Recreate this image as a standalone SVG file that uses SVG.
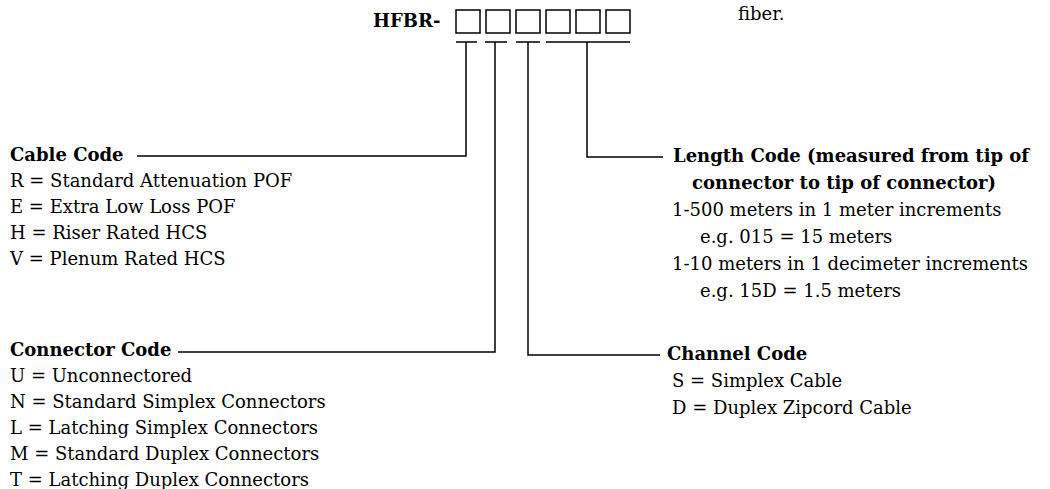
<svg xmlns="http://www.w3.org/2000/svg" width="1050" height="489" viewBox="0 0 1050 489">
<style>
text{font-family:"DejaVu Serif","Liberation Serif",serif;font-size:18px;fill:#000}
.b{font-weight:bold}
.ln{stroke:#000;stroke-width:1.5;fill:none}
.box{stroke:#000;stroke-width:1.5;fill:#fff}
</style>
<rect width="1050" height="489" fill="#fff"/>
<g id="partnumber">
<text class="b" x="373" y="27">HFBR-</text>
<rect class="box" x="456" y="10" width="24" height="23"/>
<rect class="box" x="486" y="10" width="24" height="23"/>
<rect class="box" x="516" y="10" width="24" height="23"/>
<rect class="box" x="546" y="10" width="24" height="23"/>
<rect class="box" x="576" y="10" width="24" height="23"/>
<rect class="box" x="606" y="10" width="24" height="23"/>
</g>
<text id="fiber" x="738" y="20">fiber.</text>
<g id="connectors" class="ln">
<path d="M456 42H477M485 42H507M516 42H540M546 42H630"/>
<path d="M466 42V156H137"/>
<path d="M495 42V352H178"/>
<path d="M528 42V355H660"/>
<path d="M587 42V157H663"/>
</g>
<g id="cable-code">
<text class="b" x="10" y="161">Cable Code</text>
<text x="10" y="187">R = Standard Attenuation POF</text>
<text x="10" y="213">E = Extra Low Loss POF</text>
<text x="10" y="239">H = Riser Rated HCS</text>
<text x="10" y="265">V = Plenum Rated HCS</text>
</g>
<g id="connector-code">
<text class="b" x="10" y="356">Connector Code</text>
<text x="10" y="382">U = Unconnectored</text>
<text x="10" y="408">N = Standard Simplex Connectors</text>
<text x="10" y="434">L = Latching Simplex Connectors</text>
<text x="10" y="460">M = Standard Duplex Connectors</text>
<text x="10" y="486">T = Latching Duplex Connectors</text>
</g>
<g id="length-code">
<text class="b" x="673" y="162">Length Code (measured from tip of</text>
<text class="b" x="692" y="189">connector to tip of connector)</text>
<text x="672" y="216">1-500 meters in 1 meter increments</text>
<text x="700" y="243">e.g. 015 = 15 meters</text>
<text x="672" y="270">1-10 meters in 1 decimeter increments</text>
<text x="700" y="297">e.g. 15D = 1.5 meters</text>
</g>
<g id="channel-code">
<text class="b" x="667" y="360">Channel Code</text>
<text x="672" y="387">S = Simplex Cable</text>
<text x="672" y="414">D = Duplex Zipcord Cable</text>
</g>
</svg>
